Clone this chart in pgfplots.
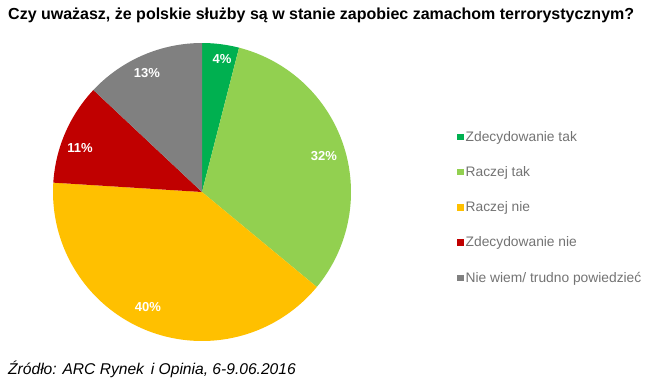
\documentclass[border=0pt]{standalone}
\usepackage{pgfplots}
\usepackage{pgfplotstable}
\pgfplotsset{compat=1.18}
\usepackage{fontspec}
\setmainfont{Liberation Sans}
\definecolor{cA}{RGB}{0,176,80}
\definecolor{cB}{RGB}{146,208,80}
\definecolor{cC}{RGB}{255,192,0}
\definecolor{cD}{RGB}{192,0,0}
\definecolor{cE}{RGB}{128,128,128}
\definecolor{legtext}{RGB}{115,115,115}
\pgfplotstableread{
label value
ZT 4
RT 32
RN 40
ZN 11
NW 13
}\piedata
\pgfplotstablegetelem{0}{value}\of\piedata \let\vA\pgfplotsretval
\pgfplotstablegetelem{1}{value}\of\piedata \let\vB\pgfplotsretval
\pgfplotstablegetelem{2}{value}\of\piedata \let\vC\pgfplotsretval
\pgfplotstablegetelem{3}{value}\of\piedata \let\vD\pgfplotsretval
\pgfplotstablegetelem{4}{value}\of\piedata \let\vE\pgfplotsretval
\pgfmathsetmacro\aA{90}
\pgfmathsetmacro\aB{\aA-3.6*\vA}
\pgfmathsetmacro\aC{\aB-3.6*\vB}
\pgfmathsetmacro\aD{\aC-3.6*\vC}
\pgfmathsetmacro\aE{\aD-3.6*\vD}
\pgfmathsetmacro\aF{\aE-3.6*\vE}
\def\cx{202}\def\cy{192}\def\R{149}
\begin{document}
\begin{tikzpicture}
\begin{axis}[
  width=655bp, height=390bp, scale only axis,
  xmin=0, xmax=655, ymin=0, ymax=390, y dir=reverse,
  hide axis, clip=false,
  legend style={at={(axis cs:457,129)}, anchor=north west, draw=none, fill=none,
    font=\fontsize{13.8bp}{16bp}\selectfont, text=legtext,
    row sep=19.7bp, inner sep=0pt},
  legend cell align=left,
  legend image code/.code={\fill[#1] (0bp,-3.2bp) rectangle (6.5bp,3.2bp);},
]
\addplot[fill=cA, draw=none, domain=\aB:\aA, samples=20] ({\cx+\R*cos(x)},{\cy-\R*sin(x)}) -- (axis cs:\cx,\cy) -- cycle;
\addlegendentry{Zdecydowanie tak}
\addplot[fill=cB, draw=none, domain=\aC:\aB, samples=80] ({\cx+\R*cos(x)},{\cy-\R*sin(x)}) -- (axis cs:\cx,\cy) -- cycle;
\addlegendentry{Raczej tak}
\addplot[fill=cC, draw=none, domain=\aD:\aC, samples=100] ({\cx+\R*cos(x)},{\cy-\R*sin(x)}) -- (axis cs:\cx,\cy) -- cycle;
\addlegendentry{Raczej nie}
\addplot[fill=cD, draw=none, domain=\aE:\aD, samples=40] ({\cx+\R*cos(x)},{\cy-\R*sin(x)}) -- (axis cs:\cx,\cy) -- cycle;
\addlegendentry{Zdecydowanie nie}
\addplot[fill=cE, draw=none, domain=\aF:\aE, samples=40] ({\cx+\R*cos(x)},{\cy-\R*sin(x)}) -- (axis cs:\cx,\cy) -- cycle;
\addlegendentry{Nie wiem/ trudno powiedzieć}
\path (axis cs:0,0) rectangle (axis cs:655,390);
\node[white, font=\bfseries\fontsize{13bp}{15bp}\selectfont] at (axis cs:222,59) {4\%};
\node[white, font=\bfseries\fontsize{13bp}{15bp}\selectfont] at (axis cs:324,156) {32\%};
\node[white, font=\bfseries\fontsize{13bp}{15bp}\selectfont] at (axis cs:148,307) {40\%};
\node[white, font=\bfseries\fontsize{13bp}{15bp}\selectfont] at (axis cs:80,148) {11\%};
\node[white, font=\bfseries\fontsize{13bp}{15bp}\selectfont] at (axis cs:147,73) {13\%};
\node[anchor=west, inner sep=0pt, font=\bfseries\fontsize{16bp}{18bp}\selectfont] at (axis cs:8,15) {Czy uważasz, że polskie służby są w stanie zapobiec zamachom terrorystycznym?};
\node[anchor=west, inner sep=0pt, font=\itshape\fontsize{15.6bp}{18bp}\selectfont] at (axis cs:8,369) {Źródło: ARC Rynek\, i Opinia, 6-9.06.2016};
\end{axis}
\end{tikzpicture}
\end{document}
